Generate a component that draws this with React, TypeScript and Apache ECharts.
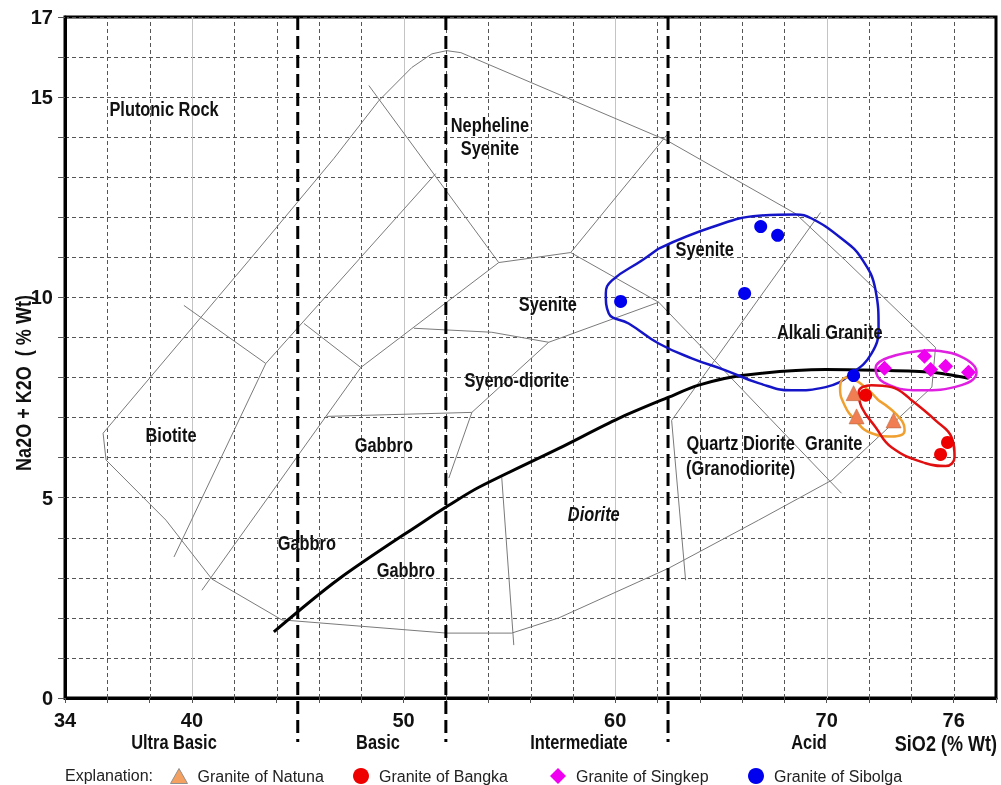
import React, { useEffect, useRef } from "react";
import * as echarts from "echarts";

// ---------- axis / tick values ----------
const X_TICK_LABELS = [34, 40, 50, 60, 70, 76];
const Y_TICK_LABELS = [0, 5, 10, 15, 17];
const X_GRID_DOTTED = [36, 38, 42, 44, 46, 48, 52, 54, 56, 58, 62, 64, 66, 68, 72, 74, 76];
const X_GRID_SOLID = [40, 50, 60, 70];
const SILICA_BOUNDARIES = [45, 52, 62.5];
const SILICA_CLASS_NAMES = ["Ultra Basic", "Basic", "Intermediate", "Acid"];
const SILICA_CLASS_X = [39.15, 48.79, 58.29, 69.16];

// ---------- classification field lines (SiO2, Na2O+K2O) ----------
const FIELD_OUTLINE = [
  [35.8, 6.61], [42.69, 10.92], [46.71, 13.47], [48.83, 14.91], [50.39, 15.74],
  [51.34, 16.08], [52.04, 16.16], [52.71, 16.11], [62.44, 13.92], [68.53, 12.09],
  [70.89, 10.92], [75.14, 8.75], [74.97, 7.76], [70.25, 5.44], [66.78, 4.44],
  [62.53, 3.24], [57.34, 2.0], [55.11, 1.62], [52.04, 1.62], [44.25, 1.95],
  [40.94, 2.97], [38.77, 4.44], [35.94, 5.94], [35.8, 6.61],
];
const LINE_A = [[39.62, 9.8], [43.49, 8.35]];
const LINE_B = [[39.15, 3.52], [43.49, 8.35], [51.52, 13.09]];
const LINE_C = [[48.36, 15.29], [54.5, 10.87]];
const LINE_D = [[54.5, 10.87], [57.9, 11.12], [62.53, 14.11]];
const LINE_E = [[45.29, 9.35], [47.98, 8.25]];
const LINE_F = [[40.47, 2.69], [47.98, 8.25], [54.5, 10.87]];
const LINE_G = [[50.49, 9.23], [54.17, 9.13], [56.86, 8.88], [62.06, 9.88]];
const LINE_H = [[57.9, 11.12], [62.06, 9.88], [70.7, 5.11]];
const LINE_I = [[56.86, 8.88], [53.23, 7.13], [52.14, 5.49]];
const LINE_J = [[46.38, 7.03], [53.23, 7.13]];
const LINE_K = [[54.64, 5.51], [55.21, 1.32]];
const LINE_L = [[69.71, 12.12], [62.67, 6.93], [63.33, 2.94]];
const FIELD_LINES = [FIELD_OUTLINE, LINE_A, LINE_B, LINE_C, LINE_D, LINE_E, LINE_F, LINE_G, LINE_H, LINE_I, LINE_J, LINE_K, LINE_L];

// alkaline / subalkaline divide
const ALKALINE_DIVIDE = [
  [43.87, 1.65], [46.94, 2.97], [51.05, 4.44], [52.14, 4.81], [53.56, 5.26],
  [57.34, 6.23], [60.17, 6.98], [62.53, 7.51], [63.95, 7.81], [65.98, 8.05],
  [69.95, 8.2], [72.31, 8.18], [74.95, 8.13], [76.7, 7.98],
];

// ---------- field labels ----------
const FIELD_LABEL_TEXTS = [
  "Plutonic Rock", "Nepheline\nSyenite", "Syenite", "Syenite", "Alkali Granite",
  "Syeno-diorite", "Biotite", "Gabbro", "Quartz Diorite", "Granite", "(Granodiorite)",
  "Diorite", "Gabbro", "Gabbro",
];
const FIELD_LABEL_X = [38.68, 54.08, 64.23, 56.82, 70.14, 55.35, 39.01, 49.07, 65.93, 70.33, 65.93, 58.99, 45.43, 50.11];
const FIELD_LABEL_Y = [14.71, 14.01, 11.22, 9.83, 9.15, 7.93, 6.58, 6.31, 6.36, 6.36, 5.74, 4.59, 3.87, 3.19];
const FIELD_LABEL_ITALIC = ["Diorite"];

// ---------- sample groups ----------
const NATUNA = [[71.27, 7.61], [71.41, 7.03], [73.16, 6.93]];
const BANGKA = [[71.84, 7.56], [75.71, 6.38], [75.38, 6.08]];
const SINGKEP = [[72.73, 8.23], [74.62, 8.53], [74.91, 8.2], [75.62, 8.28], [76.7, 8.13]];
const SIBOLGA = [[66.88, 11.77], [67.68, 11.55], [60.26, 9.9], [66.12, 10.1], [71.27, 8.05]];

// group envelopes
const SIBOLGA_LOOP = [
  [62.06, 11.22], [64.56, 11.75], [66.78, 12.04], [68.53, 12.07], [69.29, 11.97],
  [70.7, 11.47], [71.65, 10.97], [72.31, 10.17], [72.45, 9.25], [72.12, 8.6],
  [71.18, 8.1], [69.95, 7.76], [68.34, 7.68], [66.78, 7.86], [65.22, 8.18],
  [63.62, 8.48], [62.06, 8.85], [60.64, 9.35], [59.7, 9.6], [59.56, 10.1],
  [59.84, 10.42], [61.26, 10.92], [62.06, 11.22],
];
const SINGKEP_LOOP = [
  [74.81, 8.68], [76.32, 8.53], [77.08, 8.13], [76.37, 7.81], [74.34, 7.68],
  [72.69, 7.88], [72.31, 8.23], [72.92, 8.5], [74.81, 8.68],
];
const NATUNA_LOOP = [
  [72.45, 7.43], [73.54, 6.93], [73.68, 6.68], [73.06, 6.53], [72.12, 6.61],
  [71.36, 6.93], [70.8, 7.36], [70.63, 7.76], [70.95, 8.0], [71.6, 7.85], [72.45, 7.43],
];
const BANGKA_LOOP = [
  [74.01, 7.43], [75.14, 6.93], [75.9, 6.51], [76.04, 6.01], [75.62, 5.79],
  [74.67, 5.86], [73.06, 6.26], [72.31, 6.76], [71.65, 7.26], [71.51, 7.63],
  [72.12, 7.81], [73.06, 7.76], [74.01, 7.43],
];

const SERIES_NAMES = ["Granite of Natuna", "Granite of Bangka", "Granite of Singkep", "Granite of Sibolga"];

const FONT_BOLD = '"Liberation Sans", Arial, sans-serif';
const FONT_REG = '"Liberation Sans", Arial, sans-serif';
const NARROW = 0.82;

function vLine(dashed: boolean, color: string, data: number[]) {
  return {
    type: "custom",
    coordinateSystem: "cartesian2d",
    silent: true,
    z: 1,
    data: data.map((v) => [v, 0]),
    renderItem: (_p: any, api: any) => {
      const a = api.coord([api.value(0), 0]);
      const b = api.coord([api.value(0), 17]);
      const x = Math.round(a[0]) + 0.5;
      return {
        type: "line",
        shape: { x1: x, y1: a[1], x2: x, y2: b[1] },
        style: { stroke: color, lineWidth: 1, lineDash: dashed ? [4, 3] : null },
      };
    },
  };
}

function polyline(data: number[][], color: string, width: number, smooth: number | boolean, z: number) {
  return {
    type: "line",
    data,
    symbol: "none",
    showSymbol: false,
    smooth,
    silent: true,
    z,
    lineStyle: { color, width },
  };
}

export default function App() {
  const ref = useRef<HTMLDivElement>(null);
  useEffect(() => {
    if (!ref.current) return;
    const chart = echarts.init(ref.current, undefined, { renderer: "svg" });

    const series: any[] = [];
    series.push(vLine(true, "#555", X_GRID_DOTTED));
    series.push(vLine(false, "#c4c4c4", X_GRID_SOLID));
    FIELD_LINES.forEach((l) => series.push(polyline(l, "#7a7a7a", 1, false, 2)));

    // silica class boundaries (dashed, extending below axis)
    series.push({
      type: "custom",
      coordinateSystem: "cartesian2d",
      silent: true,
      clip: false,
      z: 3,
      data: SILICA_BOUNDARIES.map((v) => [v, 0]),
      renderItem: (_p: any, api: any) => {
        const a = api.coord([api.value(0), 0]);
        const b = api.coord([api.value(0), 17]);
        return {
          type: "line",
          shape: { x1: a[0], y1: b[1], x2: a[0], y2: a[1] + 44 },
          style: { stroke: "#000", lineWidth: 3, lineDash: [13, 6] },
        };
      },
    });

    // silica class names below the axis
    series.push({
      type: "custom",
      coordinateSystem: "cartesian2d",
      silent: true,
      clip: false,
      z: 3,
      data: SILICA_CLASS_X.map((v) => [v, 0]),
      renderItem: (p: any, api: any) => {
        const a = api.coord([api.value(0), 0]);
        return {
          type: "text",
          x: a[0],
          y: a[1] + 44,
          scaleX: NARROW,
          style: {
            text: SILICA_CLASS_NAMES[p.dataIndex],
            fill: "#111",
            fontSize: 20,
            fontWeight: "bold",
            fontFamily: FONT_BOLD,
            align: "center",
            verticalAlign: "middle",
          },
        };
      },
    });

    series.push(polyline(ALKALINE_DIVIDE, "#000", 3, 0.3, 4));
    series.push(polyline(SIBOLGA_LOOP, "#1515c8", 2.5, 0.45, 4));
    series.push(polyline(SINGKEP_LOOP, "#e020e0", 2.5, 0.45, 4));
    series.push(polyline(NATUNA_LOOP, "#f0a030", 2.5, 0.5, 4));
    series.push(polyline(BANGKA_LOOP, "#e01010", 2.5, 0.45, 4));

    // field labels
    series.push({
      type: "custom",
      coordinateSystem: "cartesian2d",
      silent: true,
      z: 7,
      data: FIELD_LABEL_X.map((x, i) => [x, FIELD_LABEL_Y[i]]),
      renderItem: (p: any, api: any) => {
        const a = api.coord([api.value(0), api.value(1)]);
        const t = FIELD_LABEL_TEXTS[p.dataIndex];
        return {
          type: "text",
          x: a[0],
          y: a[1],
          scaleX: NARROW,
          style: {
            text: t,
            fill: "#111",
            fontSize: 20,
            lineHeight: 23,
            fontWeight: "bold",
            fontStyle: FIELD_LABEL_ITALIC.includes(t) ? "italic" : "normal",
            fontFamily: FONT_BOLD,
            align: "center",
            verticalAlign: "middle",
          },
        };
      },
    });

    series.push({
      name: SERIES_NAMES[0], type: "scatter", symbol: "triangle", symbolSize: 15, z: 6,
      data: NATUNA, itemStyle: { color: "#f07e52", borderColor: "#b86a48", borderWidth: 0.6, opacity: 1 },
    });
    series.push({
      name: SERIES_NAMES[1], type: "scatter", symbol: "circle", symbolSize: 13, z: 6,
      data: BANGKA, itemStyle: { color: "#ee0000", borderColor: "#ee0000", borderWidth: 0, opacity: 1 },
    });
    series.push({
      name: SERIES_NAMES[2], type: "scatter", symbol: "diamond", symbolSize: 15, z: 6,
      data: SINGKEP, itemStyle: { color: "#f000f0", borderColor: "#f000f0", borderWidth: 0, opacity: 1 },
    });
    series.push({
      name: SERIES_NAMES[3], type: "scatter", symbol: "circle", symbolSize: 13, z: 6,
      data: SIBOLGA, itemStyle: { color: "#0000ee", borderColor: "#0000ee", borderWidth: 0, opacity: 1 },
    });

    const legendBase = {
      orient: "horizontal",
      padding: 0,
      selectedMode: false,
      textStyle: { fontSize: 16, fontFamily: FONT_REG, color: "#222", padding: [0, 0, 0, 5] },
    };
    const legendLefts = [170, 353, 550, 748];

    chart.setOption({
      animation: false,
      grid: { left: 65, right: 5, top: 17, bottom: 87, show: true, borderColor: "#000", borderWidth: 3 },
      xAxis: {
        type: "value", min: 34, max: 78, interval: 2,
        axisLine: { show: true, lineStyle: { color: "#000", width: 3 } },
        axisTick: { show: true, length: 5, lineStyle: { color: "#555" } },
        axisLabel: {
          formatter: (v: number) => (X_TICK_LABELS.includes(v) ? String(v) : ""),
          fontSize: 20, fontWeight: "bold", fontFamily: FONT_BOLD, color: "#111", margin: 12,
        },
        splitLine: { show: false },
      },
      yAxis: {
        type: "value", min: 0, max: 17, interval: 1,
        axisLine: { show: true, lineStyle: { color: "#000", width: 3 } },
        axisTick: { show: true, length: 7, lineStyle: { color: "#555" } },
        axisLabel: {
          formatter: (v: number) => (Y_TICK_LABELS.includes(v) ? String(v) : ""),
          fontSize: 20, fontWeight: "bold", fontFamily: FONT_BOLD, color: "#111", margin: 12,
        },
        splitLine: { show: true, lineStyle: { color: "#555", width: 1, type: [4, 3] } },
      },
      legend: SERIES_NAMES.map((n, i) => ({
        ...legendBase,
        data: [
          i === 0
            ? { name: n, itemStyle: { color: "#f4a060", borderColor: "#909090", borderWidth: 1 } }
            : { name: n },
        ],
        left: legendLefts[i],
        top: 768,
        itemWidth: i === 0 ? 17 : 16,
        itemHeight: i === 0 ? 15 : 16,
      })),
      graphic: [
        {
          type: "text", left: 65, top: 767,
          style: { text: "Explanation:", fontSize: 16, fontFamily: FONT_REG, fill: "#222" },
        },
        {
          type: "text", x: 23, y: 383, rotation: Math.PI / 2, scaleX: NARROW,
          style: {
            text: "Na2O + K2O  ( % Wt)", fontSize: 22, fontWeight: "bold", fontFamily: FONT_BOLD,
            fill: "#111", align: "center", verticalAlign: "middle",
          },
        },
        {
          type: "text", x: 997, y: 743, scaleX: NARROW,
          style: {
            text: "SiO2 (% Wt)", fontSize: 22, fontWeight: "bold", fontFamily: FONT_BOLD,
            fill: "#111", align: "right", verticalAlign: "middle",
          },
        },
      ],
      series,
    });
    return () => chart.dispose();
  }, []);
  return <div ref={ref} style={{ position: "fixed", left: 0, top: 0, width: 1001, height: 785 }} />;
}
